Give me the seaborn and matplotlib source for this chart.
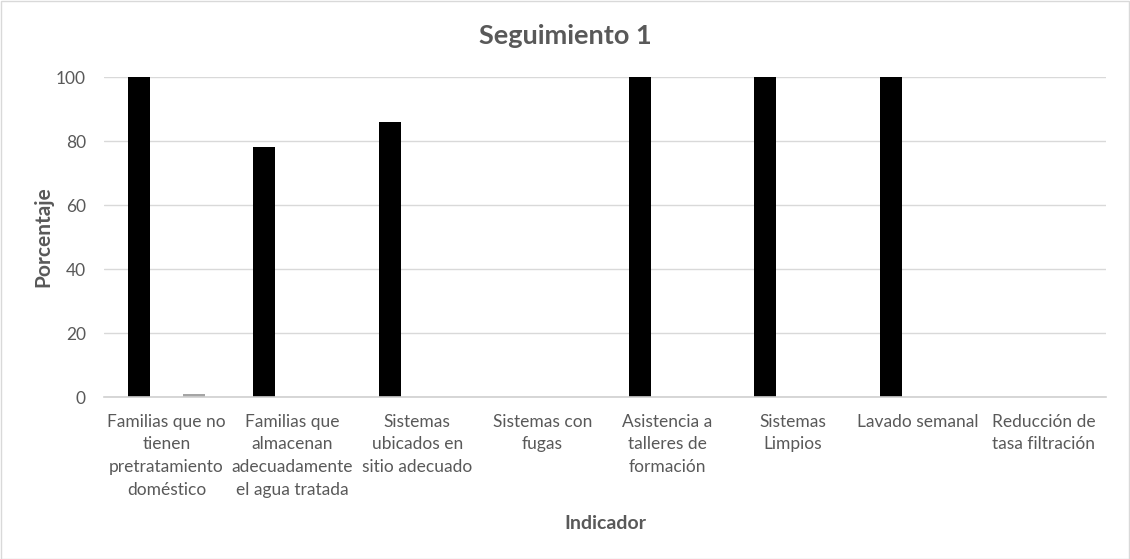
import matplotlib
matplotlib.use("Agg")
import matplotlib.pyplot as plt
import seaborn as sns
import pandas as pd
from matplotlib.patches import Rectangle

categorias = [
    "Familias que no\ntienen\npretratamiento\ndoméstico",
    "Familias que\nalmacenan\nadecuadamente\nel agua tratada",
    "Sistemas\nubicados en\nsitio adecuado",
    "Sistemas con\nfugas",
    "Asistencia a\ntalleres de\nformación",
    "Sistemas\nLimpios",
    "Lavado semanal",
    "Reducción de\ntasa filtración",
]
serie1 = [100, 78, 86, 0, 100, 100, 100, 0]
serie2 = [0, 0, 0, 0, 0, 0, 0, 0]
serie3 = [1, 0, 0, 0, 0, 0, 0, 0]
series = ["Serie 1", "Serie 2", "Serie 3"]
colores = ["#000000", "#7f7f7f", "#a5a5a5"]
y_ticks = [0, 20, 40, 60, 80, 100]

rows = []
for nombre, vals in zip(series, [serie1, serie2, serie3]):
    for c, v in zip(categorias, vals):
        rows.append({"Indicador": c, "Porcentaje": v, "Serie": nombre})
df = pd.DataFrame(rows)

sns.set_theme(style="white")
plt.rcParams["font.family"] = ["Lato", "DejaVu Sans"]

fig = plt.figure(figsize=(11.3, 5.59), dpi=100)
ax = fig.add_axes([104 / 1130, 162 / 559, 1002 / 1130, 320 / 559])

sns.barplot(data=df, x="Indicador", y="Porcentaje", hue="Serie",
            hue_order=series, palette=colores, order=categorias,
            width=0.66, gap=0.2, saturation=1, ax=ax, legend=False,
            errorbar=None, linewidth=0)

ax.set_xlim(-0.5, len(categorias) - 0.5)
ax.set_ylim(0, 100)
ax.set_yticks(y_ticks)
ax.set_yticklabels([str(t) for t in y_ticks])
ax.yaxis.grid(True, color="#d9d9d9", linewidth=1)
ax.set_axisbelow(True)
for s in ["top", "right", "left"]:
    ax.spines[s].set_visible(False)
ax.spines["bottom"].set_color("#d0d0d0")
ax.spines["bottom"].set_linewidth(1.2)
ax.tick_params(axis="both", length=0, colors="#595959", labelsize=12.5)
ax.tick_params(axis="y", pad=13)
ax.tick_params(axis="x", pad=12)
for lab in ax.get_xticklabels():
    lab.set_linespacing(1.52)

ax.set_xlabel("Indicador", fontsize=14, fontweight="bold", color="#595959", labelpad=12)
ax.set_ylabel("Porcentaje", fontsize=15, fontweight="bold", color="#595959", labelpad=2)
fig.text(565 / 1130, 1 - 36 / 559, "Seguimiento 1", ha="center", va="center",
         fontsize=19.5, fontweight="bold", color="#595959")

fig.patches.append(Rectangle((0.5 / 1130, 0.5 / 559), 1128.5 / 1130, 557.5 / 559,
                             transform=fig.transFigure, fill=False,
                             edgecolor="#d9d9d9", linewidth=1))

fig.savefig("out.png", dpi=100, facecolor="white")
